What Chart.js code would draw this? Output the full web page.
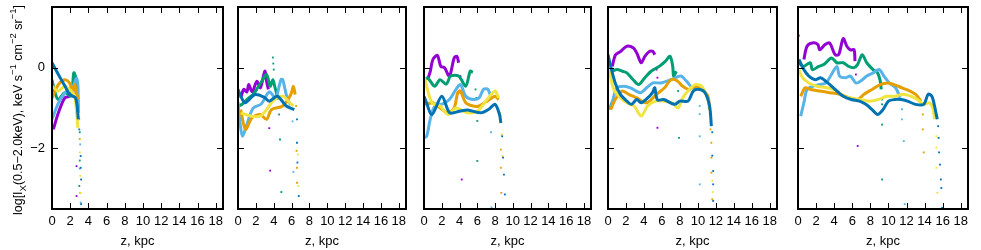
<!DOCTYPE html>
<html>
<head>
<meta charset="utf-8">
<script src="https://cdn.jsdelivr.net/npm/chart.js@4/dist/chart.umd.min.js"></script>
<style>
  body { margin: 0; background: #fff; }
  #wrap { position: relative; width: 981px; height: 250px; overflow: hidden; }
  #wrap canvas { position: absolute; top: 0; }
</style>
</head>
<body>
<div id="wrap"></div>
<script>
// tick labels
const xTicks = [0, 2, 4, 6, 8, 10, 12, 14, 16, 18];
const yTicks = [0, -2];

// panel 1: [z kpc, log Ix]
const p1Purple = [[0.15,-1.53],[0.7,-1.12],[1.4,-0.75],[1.9,-0.71],[2.5,-0.5],[2.85,-0.96]];
const p1PurpleDots = [[2.7,-2.44],[2.7,-3.18]];
const p1Green = [[0,-0.3],[0.3,-0.6],[0.7,-0.79],[1.4,-0.62],[2.1,-0.7],[2.4,-0.13],[2.7,-0.34],[2.85,-1.04]];
const p1GreenDots = [[0,0.98],[0,0.49],[3.0,-2.93],[3.05,-2.3],[3.05,-1.6]];
const p1Sky = [[0,-1.28],[0.7,-0.88],[1.4,-0.63],[1.9,-0.54],[2.3,-0.46],[2.7,-0.26],[2.85,-0.46],[2.9,-1.12]];
const p1SkyDots = [[3.1,-1.9],[3.05,-2.5],[3.15,-3.34]];
const p1Orange = [[0,-0.75],[0.7,-0.42],[1.4,-0.3],[1.9,-0.37],[2.3,-0.58],[2.5,-0.42],[2.85,-0.79]];
const p1OrangeDots = [[3.0,-1.28],[3.05,-1.77],[3.1,-3.1]];
const p1Yellow = [[0,-0.46],[0.7,-0.58],[1.4,-0.46],[2.1,-0.58],[2.5,-0.7],[2.85,-1.49]];
const p1YellowDots = [[3.05,-2.1],[3.1,-2.68],[3.15,-3.1]];
const p1Blue = [[0,0.12],[0.7,-0.17],[1.4,-0.45],[2.0,-0.68],[2.6,-0.75],[2.9,-1.28]];
const p1BlueDots = [[3.0,-1.53],[3.15,-2.19],[3.15,-2.48],[3.2,-2.77],[3.2,-3.38]];

// panel 2
const p2Purple = [[0.3,-0.75],[0.65,-0.54],[1.0,-0.6],[1.2,-0.42],[1.6,-0.6],[2.1,-0.34],[2.5,-0.5],[3.0,-0.09],[3.2,-0.34],[3.4,-0.54]];
const p2PurpleDots = [[0.5,-1.3],[3.5,-1.5],[3.6,-2.55]];
const p2Green = [[0.1,-0.95],[0.5,-0.9],[1.0,-0.79],[1.7,-0.66],[2.2,-0.5],[2.65,-0.34],[3.2,-0.17],[3.6,-0.46],[3.9,-0.3],[4.1,-0.46],[4.5,-0.79]];
const p2GreenDots = [[0,0.62],[0,0.15],[3.9,0.25],[3.95,0.1],[4.0,-0.05],[4.6,-1.16],[4.7,-1.78],[4.85,-3.08]];
const p2Sky = [[0,-0.85],[0.25,-1.4],[0.5,-1.7],[1.0,-1.4],[1.7,-1.0],[2.6,-0.9],[3.5,-0.6],[4.2,-0.75],[4.8,-0.3],[5.0,-0.3],[5.5,-0.75],[5.9,-0.93]];
const p2SkyDots = [[0,-2.3],[6.1,-1.33],[6.2,-2.58]];
const p2Orange = [[0.3,-1.04],[0.84,-1.53],[1.57,-1.24],[2.5,-1.16],[3.2,-1.28],[3.75,-1.04],[5.0,-0.95],[5.9,-0.67],[6.2,-0.46],[6.4,-0.67]];
const p2OrangeDots = [[6.5,-0.95],[6.55,-2.06],[6.6,-2.48],[6.6,-2.85]];
const p2Yellow = [[0.3,-1.12],[1.4,-1.2],[2.5,-1.2],[3.2,-1.04],[3.9,-0.83],[5.0,-0.71],[5.8,-0.87],[6.2,-0.95]];
const p2YellowDots = [[6.7,-2.15],[6.75,-2.93]];
const p2Blue = [[0,-0.54],[0.3,-0.7],[0.8,-0.87],[1.9,-0.67],[2.9,-0.73],[3.5,-0.83],[4.4,-0.71],[5.4,-0.95],[6.3,-1.04]];
const p2BlueDots = [[6.6,-1.28],[6.6,-1.86],[6.65,-2.35],[6.8,-3.18]];

// panel 3
const p3Purple = [[0.4,-0.3],[0.7,-0.1],[1.0,0.2],[1.5,0.3],[1.9,0.03],[2.3,0.0],[2.86,-0.21],[3.4,0.24],[3.7,0.28],[3.9,0.12]];
const p3PurpleDots = [[0,-0.1],[0,-2.85],[4.1,-0.21],[4.1,-0.62],[4.25,-2.77]];
const p3Green = [[0.1,-0.3],[0.4,-0.25],[1.2,-0.46],[1.8,-0.3],[2.5,-0.41],[3.0,-0.21],[3.9,-0.21],[4.7,-0.46],[5.2,-0.09],[5.5,-0.12]];
const p3GreenDots = [[5.8,-0.54],[5.9,-0.75],[6.0,-1.32],[6.0,-2.31]];
const p3Sky = [[0,-1.73],[0.3,-1.7],[0.7,-1.28],[1.2,-0.96],[2.1,-0.9],[2.86,-0.79],[3.6,-0.54],[4.1,-0.42],[4.7,-0.71],[5.5,-0.79],[6.2,-0.75],[6.7,-0.54],[7.2,-0.54],[7.6,-0.79]];
const p3SkyDots = [[7.55,-1.6],[7.6,-3.46]];
const p3Orange = [[0,-0.9],[0.4,-0.9],[1.0,-0.87],[1.76,-0.99],[2.7,-1.12],[3.4,-0.99],[3.8,-0.62],[4.1,-0.58],[4.7,-0.87],[5.5,-0.95],[6.2,-0.95],[7.1,-0.83],[8.0,-0.71],[8.4,-0.79]];
const p3OrangeDots = [[0,-1.3],[0,-1.6],[8.6,-1.2],[8.65,-2.03],[8.65,-2.48],[8.7,-3.1]];
const p3Yellow = [[0.05,-0.25],[0.9,-0.87],[1.8,-0.95],[2.7,-1.16],[3.6,-1.0],[4.9,-1.12],[6.0,-1.08],[7.1,-0.79],[8.0,-0.58],[8.4,-0.75]];
const p3YellowDots = [[8.6,-1.12],[8.75,-1.65],[8.85,-2.19]];
const p3Blue = [[0,-0.71],[0.15,-0.79],[0.9,-1.16],[2.0,-0.71],[2.9,-1.12],[4.0,-1.08],[4.9,-1.05],[6.4,-1.12],[7.3,-1.03],[8.0,-0.91],[8.5,-1.16],[8.65,-1.37]];
const p3BlueDots = [[8.8,-1.7],[8.9,-2.23],[9.0,-2.65],[9.1,-3.14]];

// panel 4
const p4Purple = [[0.47,0.03],[0.84,0.32],[1.4,0.4],[2.1,0.53],[2.8,0.49],[3.2,0.36],[3.7,0.12],[4.1,0.28],[4.6,0.4],[5.0,0.4],[5.2,0.32]];
const p4PurpleDots = [[5.4,-0.05],[5.5,-0.25],[5.5,-1.49]];
const p4Green = [[0.47,-0.09],[1.0,-0.05],[1.6,-0.09],[2.1,-0.13],[2.8,-0.3],[3.4,-0.42],[4.1,-0.25],[4.8,-0.09],[5.7,0.03],[6.4,0.16],[6.9,0.28],[7.2,0.03],[7.3,-0.21],[7.6,-0.09]];
const p4GreenDots = [[0,0.61],[0,0.1],[7.8,-0.58],[7.9,-1.74]];
const p4Sky = [[0.1,-1.04],[0.5,-0.83],[1.0,-0.5],[1.8,-0.46],[2.5,-0.5],[3.6,-0.62],[4.3,-0.5],[5.0,-0.38],[5.9,-0.38],[7.0,-0.3],[8.1,-0.21],[8.7,-0.33],[9.4,-0.5],[10.0,-0.5]];
const p4SkyDots = [[0,-1.4],[0,-2.2],[10.2,-0.95],[10.2,-1.15],[10.2,-1.7],[10.2,-2.89]];
const p4Orange = [[0.3,-1.04],[0.8,-0.79],[1.55,-0.58],[2.3,-0.66],[3.2,-0.75],[4.3,-0.87],[5.4,-0.66],[6.3,-0.5],[7.0,-0.3],[7.7,-0.33],[8.3,-0.46],[9.0,-0.54],[9.7,-0.46],[10.4,-0.54],[11.1,-0.7],[11.3,-1.04]];
const p4OrangeDots = [[0,-1.25],[0,-1.53],[11.4,-1.53],[11.5,-1.86],[11.5,-2.23],[11.5,-2.6],[11.6,-3.26]];
const p4Yellow = [[0.1,-0.05],[0.65,-0.54],[1.4,-0.75],[2.1,-0.87],[2.9,-0.95],[3.7,-1.2],[4.4,-0.95],[5.3,-0.83],[6.2,-0.83],[7.1,-0.87],[7.8,-1.0],[8.3,-0.75],[8.9,-0.58],[9.7,-0.42],[10.4,-0.46],[11.0,-0.71],[11.3,-0.95]];
const p4YellowDots = [[11.6,-2.8],[11.65,-3.08]];
const p4Blue = [[0,0.32],[0.3,0.03],[0.8,-0.38],[1.4,-0.67],[2.1,-0.83],[2.6,-0.91],[3.2,-0.79],[3.7,-0.87],[4.6,-0.71],[5.0,-0.6],[5.2,-0.5],[5.5,-0.8],[6.2,-0.79],[7.4,-0.91],[8.0,-0.83],[8.9,-0.83],[9.5,-0.58],[10.2,-0.54],[10.8,-0.62],[11.3,-0.95],[11.5,-1.45]];
const p4BlueDots = [[11.6,-1.6],[11.6,-2.18],[11.7,-2.56],[11.7,-2.89],[11.7,-3.3]];

// panel 5
const p5Purple = [[0.65,0.2],[1.0,0.53],[1.6,0.61],[2.2,0.57],[2.4,0.44],[3.0,0.57],[3.5,0.61],[4.1,0.32],[4.5,0.32],[5.0,0.72],[5.4,0.53],[5.8,0.44],[6.2,0.44],[6.3,0.16]];
const p5PurpleDots = [[0.1,0.79],[6.4,-0.17],[6.4,-0.38],[6.6,-1.94]];
const p5Green = [[0.1,0.12],[0.6,0.03],[1.35,0.12],[1.6,-0.05],[2.3,0.03],[2.9,0.08],[3.7,0.24],[4.3,0.12],[5.0,0.12],[5.6,0.03],[6.2,0.0],[6.6,0.08],[7.1,0.32],[7.6,0.12],[8.3,-0.05],[8.8,-0.13],[9.1,-0.34],[9.2,-0.54]];
const p5GreenDots = [[9.3,-0.79],[9.3,-0.91],[9.3,-1.41],[9.3,-2.77]];
const p5Sky = [[0.3,-1.2],[0.65,-0.87],[1.0,-0.54],[1.7,-0.46],[2.4,-0.42],[3.1,-0.38],[3.7,-0.17],[4.3,0.03],[4.6,-0.21],[5.3,-0.25],[5.8,-0.21],[6.4,-0.38],[6.9,-0.34],[7.6,-0.21],[8.3,-0.13],[9.0,-0.05],[9.5,-0.21],[10.1,-0.38],[10.8,-0.5],[11.3,-0.75]];
const p5SkyDots = [[11.5,-1.03],[11.5,-1.28],[11.7,-1.82],[11.8,-3.38]];
const p5Orange = [[0.3,-0.71],[0.8,-0.5],[1.4,-0.54],[2.4,-0.58],[3.5,-0.62],[4.6,-0.66],[5.7,-0.75],[6.6,-0.79],[7.3,-0.66],[8.2,-0.54],[9.1,-0.42],[9.9,-0.38],[10.6,-0.42],[11.5,-0.5],[12.4,-0.58],[13.0,-0.66],[13.6,-0.83]];
const p5OrangeDots = [[0,-1.35],[0,-1.53],[13.8,-1.16],[13.8,-1.53],[13.9,-2.1]];
const p5Yellow = [[0.1,-0.05],[0.5,-0.25],[1.2,-0.38],[2.1,-0.46],[3.2,-0.5],[4.3,-0.58],[5.0,-0.71],[5.9,-0.75],[6.8,-0.79],[7.9,-0.83],[8.9,-0.79],[9.8,-0.71],[10.7,-0.71],[11.6,-0.66],[12.5,-0.71],[13.2,-0.79],[13.9,-0.91],[14.5,-0.87],[14.9,-0.99],[15.1,-1.28]];
const p5YellowDots = [[15.3,-1.7],[15.3,-1.98],[15.3,-2.48],[15.4,-3.1]];
const p5Blue = [[0.1,0.2],[0.65,-0.05],[1.2,-0.21],[1.9,-0.3],[2.5,-0.25],[3.1,-0.34],[4.1,-0.54],[5.0,-0.71],[5.9,-0.79],[6.8,-0.83],[7.5,-0.91],[8.2,-1.04],[8.8,-1.16],[9.4,-1.04],[10.0,-0.83],[10.7,-0.79],[11.4,-0.79],[12.1,-0.83],[13.0,-0.91],[13.9,-0.91],[14.4,-0.66],[14.8,-0.71],[15.1,-0.95],[15.4,-1.28]];
const p5BlueDots = [[15.5,-1.45],[15.55,-1.74],[15.6,-2.1],[15.7,-2.4],[15.8,-2.77],[15.85,-2.98],[15.95,-3.47]];

const colors = ['#9400d3', '#009e73', '#56b4e9', '#e69f00', '#f0e442', '#0072b2'];

const panels = [
  { left: 52,  width: 173, lines: [p1Purple, p1Green, p1Sky, p1Orange, p1Yellow, p1Blue], dots: [p1PurpleDots, p1GreenDots, p1SkyDots, p1OrangeDots, p1YellowDots, p1BlueDots] },
  { left: 236, width: 172, lines: [p2Purple, p2Green, p2Sky, p2Orange, p2Yellow, p2Blue], dots: [p2PurpleDots, p2GreenDots, p2SkyDots, p2OrangeDots, p2YellowDots, p2BlueDots] },
  { left: 422, width: 171, lines: [p3Purple, p3Green, p3Sky, p3Orange, p3Yellow, p3Blue], dots: [p3PurpleDots, p3GreenDots, p3SkyDots, p3OrangeDots, p3YellowDots, p3BlueDots] },
  { left: 606, width: 173, lines: [p4Purple, p4Green, p4Sky, p4Orange, p4Yellow, p4Blue], dots: [p4PurpleDots, p4GreenDots, p4SkyDots, p4OrangeDots, p4YellowDots, p4BlueDots] },
  { left: 796, width: 174, lines: [p5Purple, p5Green, p5Sky, p5Orange, p5Yellow, p5Blue], dots: [p5PurpleDots, p5GreenDots, p5SkyDots, p5OrangeDots, p5YellowDots, p5BlueDots] }
];

const FONT = 'Liberation Sans';
const toXY = arr => arr.map(p => ({ x: p[0], y: p[1] }));

// frame + inward ticks on all four sides (gnuplot style)
const framePlugin = {
  id: 'frame',
  afterDraw(chart) {
    const { ctx, chartArea: a, scales } = chart;
    ctx.save();
    ctx.strokeStyle = '#000';
    ctx.lineWidth = 1;
    ctx.beginPath();
    xTicks.forEach(v => {
      const x = Math.round(scales.x.getPixelForValue(v)) + 0.5;
      ctx.moveTo(x, a.bottom); ctx.lineTo(x, a.bottom - 6);
      ctx.moveTo(x, a.top); ctx.lineTo(x, a.top + 6);
    });
    yTicks.forEach(v => {
      const y = Math.round(scales.y.getPixelForValue(v)) + 0.5;
      ctx.moveTo(a.left, y); ctx.lineTo(a.left + 6, y);
      ctx.moveTo(a.right, y); ctx.lineTo(a.right - 6, y);
    });
    ctx.stroke();
    ctx.lineWidth = 2;
    ctx.strokeRect(a.left, a.top, a.right - a.left, a.bottom - a.top);
    ctx.restore();
  }
};

// rotated y title with sub/superscripts
const yTitlePlugin = {
  id: 'ytitle',
  afterDraw(chart) {
    const { ctx, chartArea: a } = chart;
    const parts = [
      ['log[I', 0], ['X', -1], ['(0.5\u22122.0keV), keV s', 0], ['\u22121', 1],
      [' cm', 0], ['\u22122', 1], [' sr', 0], ['\u22121', 1], [']', 0]
    ];
    const big = '12.5px "' + FONT + '"', small = '9.5px "' + FONT + '"';
    ctx.save();
    let total = 0;
    parts.forEach(p => { ctx.font = p[1] ? small : big; total += ctx.measureText(p[0]).width; });
    ctx.translate(19, 110);
    ctx.rotate(-Math.PI / 2);
    ctx.fillStyle = '#000';
    ctx.textBaseline = 'middle';
    let x = -total / 2;
    parts.forEach(p => {
      ctx.font = p[1] ? small : big;
      ctx.fillText(p[0], x, p[1] === 1 ? -6 : (p[1] === -1 ? 4 : 0));
      x += ctx.measureText(p[0]).width;
    });
    ctx.restore();
  }
};

const wrap = document.getElementById('wrap');
panels.forEach((pn, i) => {
  const first = i === 0;
  const yw = first ? 52 : 0;
  const canvas = document.createElement('canvas');
  const cLeft = first ? 0 : pn.left - 2;
  const cWidth = first ? pn.left + pn.width + 2 : pn.width + 4;
  canvas.width = cWidth; canvas.height = 250;
  canvas.style.left = cLeft + 'px';
  canvas.style.width = cWidth + 'px'; canvas.style.height = '250px';
  wrap.appendChild(canvas);

  const datasets = [];
  // blue first so it is drawn on top
  for (let k = colors.length - 1; k >= 0; k--) {
    datasets.push({
      data: toXY(pn.lines[k]), showLine: true, borderColor: colors[k], backgroundColor: colors[k],
      borderWidth: 3, pointRadius: 0, tension: 0.3
    });
    datasets.push({
      data: toXY(pn.dots[k]), showLine: false, borderColor: colors[k], backgroundColor: colors[k],
      pointStyle: 'rect', pointRadius: 1.3, borderWidth: 0
    });
  }

  new Chart(canvas, {
    type: 'scatter',
    data: { datasets },
    options: {
      responsive: false, animation: false,
      layout: { padding: { left: first ? 0 : 2, right: 2, top: 7, bottom: 0 } },
      plugins: { legend: { display: false }, tooltip: { enabled: false } },
      scales: {
        x: {
          type: 'linear', min: 0, max: 18.8,
          afterBuildTicks: s => { s.ticks = xTicks.map(v => ({ value: v })); },
          afterFit: s => { s.height = 41; s.paddingLeft = 0; s.paddingRight = 0; },
          grid: { display: false, drawTicks: false },
          border: { display: false },
          ticks: { color: '#000', padding: 5, maxRotation: 0, autoSkip: false, font: { family: FONT, size: 13 } },
          title: { display: true, text: 'z, kpc', color: '#000', padding: { top: 2, bottom: 1 }, font: { family: FONT, size: 13 } }
        },
        y: {
          type: 'linear', min: -3.5, max: 1.5,
          afterBuildTicks: s => { s.ticks = yTicks.map(v => ({ value: v })); },
          afterFit: s => { s.width = yw; s.paddingTop = 0; s.paddingBottom = 0; },
          grid: { display: false, drawTicks: false },
          border: { display: false },
          ticks: { display: first, color: '#000', padding: 7, font: { family: FONT, size: 13 },
                   callback: v => String(v).replace('-', '\u2212') }
        }
      }
    },
    plugins: first ? [framePlugin, yTitlePlugin] : [framePlugin]
  });
});
</script>
</body>
</html>
